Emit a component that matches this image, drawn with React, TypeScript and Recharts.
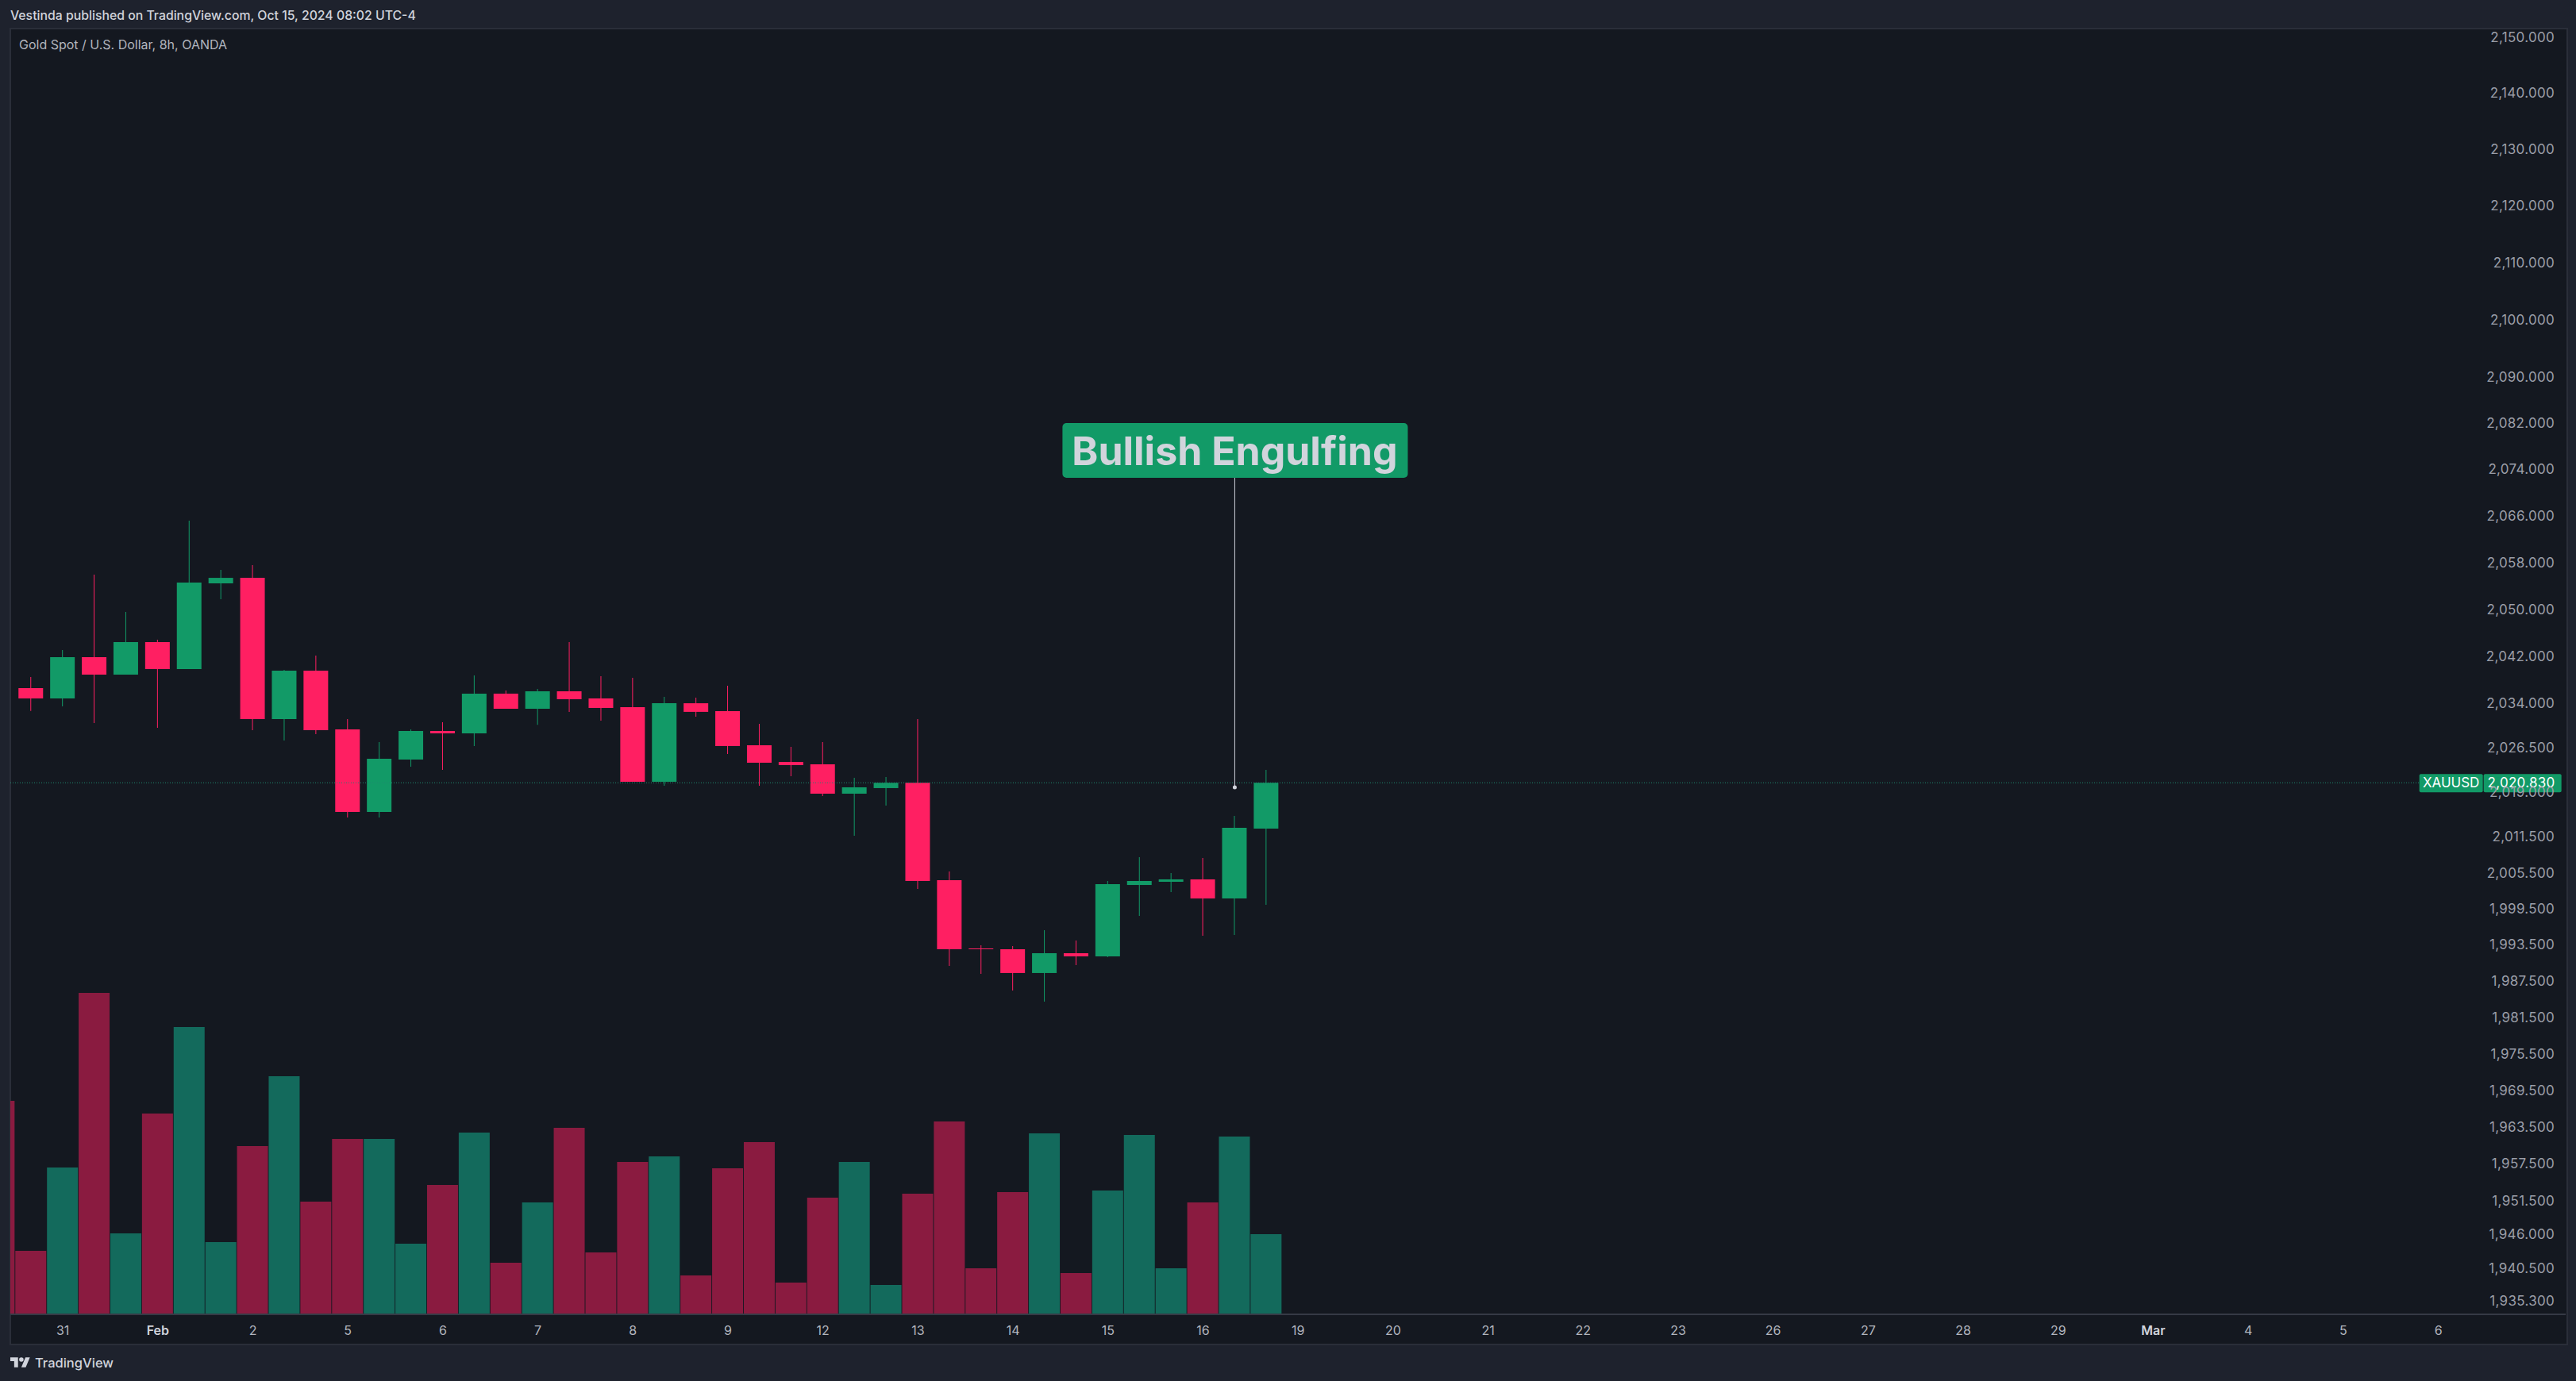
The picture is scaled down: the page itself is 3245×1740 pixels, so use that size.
import {
  Bar,
  Cell,
  ComposedChart,
  ReferenceDot,
  ReferenceLine,
  XAxis,
  YAxis
} from "recharts";

const FONT = "Inter, 'Noto Sans', sans-serif";
const GREEN = "#129a67";
const RED = "#ff1f62";
const VOL_GREEN = "#136a5c";
const VOL_RED = "#8a1b40";

// 8h candles, first bar of the volume pane has no visible candle
const barIndex = [
  -1, 0, 1, 2, 3, 4, 5, 6, 7, 8, 9, 10, 11, 12, 13, 14, 15, 16, 17, 18, 19, 20,
  21, 22, 23, 24, 25, 26, 27, 28, 29, 30, 31, 32, 33, 34, 35, 36, 37, 38, 39
];
const opens = [
  null, 2036.82, 2035.08, 2042.08, 2039.11, 2044.65, 2040.06, 2054.67, 2055.61, 2031.58, 2039.79,
  2029.84, 2015.94, 2024.74, 2029.57, 2029.17, 2035.89, 2033.33, 2036.29, 2035.08, 2033.6,
  2021.0, 2034.26, 2032.93, 2027.16, 2024.34, 2023.94, 2019.0, 2019.94, 2020.83, 2004.51,
  1993.15, 1993.02, 1989.08, 1992.36, 1991.84, 2003.71, 2004.25, 2004.65, 2001.46, 2013.13
];
const highs = [
  null, 2038.71, 2043.29, 2056.16, 2049.78, 2045.05, 2065.42, 2056.98, 2057.79, 2039.92, 2042.35,
  2031.58, 2027.69, 2029.84, 2031.05, 2038.98, 2036.42, 2036.69, 2044.65, 2038.84, 2038.58,
  2035.34, 2035.21, 2037.23, 2030.77, 2026.89, 2027.69, 2021.67, 2021.8, 2031.58, 2005.97,
  1993.67, 1993.55, 1996.18, 1994.47, 2004.38, 2008.36, 2005.71, 2008.22, 2015.27, 2023.01
];
const lows = [
  null, 2032.97, 2033.73, 2030.91, 2039.11, 2030.1, 2040.06, 2051.96, 2029.7, 2027.96, 2029.04,
  2015.0, 2015.0, 2023.54, 2023.01, 2027.02, 2033.33, 2030.6, 2032.8, 2031.32, 2021.0,
  2020.34, 2031.98, 2025.68, 2020.34, 2021.94, 2018.6, 2011.94, 2017.0, 2003.06, 1990.25,
  1988.95, 1986.18, 1984.35, 1990.39, 1991.7, 1998.56, 2002.52, 1995.26, 1995.39, 2000.4
];
const closes = [
  null, 2035.08, 2042.08, 2039.11, 2044.65, 2040.06, 2054.8, 2055.61, 2031.58, 2039.79, 2029.7,
  2015.94, 2024.88, 2029.57, 2029.17, 2035.89, 2033.33, 2036.29, 2034.94, 2033.46, 2021.0,
  2034.26, 2032.8, 2027.02, 2024.21, 2023.81, 2019.0, 2020.07, 2020.83, 2004.38, 1993.02,
  1993.02, 1989.08, 1992.36, 1991.84, 2003.85, 2004.38, 2004.65, 2001.46, 2013.27, 2020.83
];
const volumes = [
  269, 80, 185, 405, 102, 253, 362, 91, 212, 300, 142,
  221, 221, 89, 163, 229, 65, 141, 235, 78, 192,
  199, 49, 184, 217, 40, 147, 192, 37, 152, 243,
  58, 154, 228, 52, 156, 226, 58, 141, 224, 101
];
const volumeUp = [
  false, false, true, false, true, false, true, true, false, true, false,
  false, true, true, false, true, false, true, false, false, false,
  true, false, false, false, false, false, true, true, false, false,
  false, false, true, false, true, true, true, false, true, true
];

const priceTicks = [
  2150, 2140, 2130, 2120, 2110, 2100, 2090, 2082, 2074, 2066, 2058, 2050, 2042, 2034, 2026.5,
  2019, 2011.5, 2005.5, 1999.5, 1993.5, 1987.5, 1981.5, 1975.5, 1969.5, 1963.5, 1957.5,
  1951.5, 1946, 1940.5, 1935.3
];
const timeTicks = [
  1, 4, 7, 10, 13, 16, 19, 22, 25, 28, 31, 34, 37, 40, 43, 46, 49, 52, 55, 58, 61, 64, 67, 70, 73, 76
];
const timeLabels = [
  "31", "Feb", "2", "5", "6", "7", "8", "9", "12", "13", "14", "15", "16", "19", "20", "21",
  "22", "23", "26", "27", "28", "29", "Mar", "4", "5", "6"
];
const monthLabels = ["Feb", "Mar"];

const LAST_PRICE = 2020.83;
const X_DOMAIN = [-0.657, 80.02];
const PRICE_DOMAIN = [1933.35, 2151.8];
const VOLUME_DOMAIN = [0, 1620];

const rows = barIndex.map((i, n) => ({
  i,
  wick: lows[n] === null ? null : [lows[n], highs[n]],
  body:
    opens[n] === null
      ? null
      : [Math.min(opens[n], closes[n]), Math.max(opens[n], closes[n])],
  volume: volumes[n],
  up: closes[n] !== null && closes[n] >= opens[n],
  volumeUp: volumeUp[n]
}));

function TimeTick({ x, y, payload }: any) {
  const label = timeLabels[timeTicks.indexOf(payload.value)];
  const isMonth = monthLabels.includes(label);
  return (
    <text
      x={x}
      y={y + 14}
      textAnchor="middle"
      dominantBaseline="middle"
      fontFamily={FONT}
      fontSize={16}
      fontWeight={isMonth ? 600 : 400}
      fill={isMonth ? "#d1d4dc" : "#b2b5be"}
    >
      {label}
    </text>
  );
}

function PriceTick({ x, y, payload }: any) {
  return (
    <text
      x={x}
      y={y - 0.5}
      textAnchor="end"
      dominantBaseline="middle"
      fontFamily={FONT}
      fontSize={17}
      letterSpacing={0.3}
      fill="#9b9ea8"
    >
      {payload.value.toLocaleString("en-US", {
        minimumFractionDigits: 3,
        maximumFractionDigits: 3
      })}
    </text>
  );
}

function PriceTag({ cx, cy }: any) {
  return (
    <g fontFamily={FONT} fontSize={17} fill="#ffffff">
      <rect x={cx} y={cy - 11} width={80} height={23} rx={2} fill={GREEN} />
      <rect x={cx + 81} y={cy - 11} width={98} height={23} rx={2} fill={GREEN} />
      <text x={cx + 40} y={cy + 1} textAnchor="middle" dominantBaseline="middle">
        XAUUSD
      </text>
      <text
        x={cx + 171}
        y={cy + 1}
        textAnchor="end"
        dominantBaseline="middle"
        letterSpacing={0.3}
      >
        {LAST_PRICE.toFixed(3).replace(/^(\d)(\d{3})/, "$1,$2")}
      </text>
    </g>
  );
}

function CalloutBox({ cx, cy }: any) {
  return (
    <g>
      <rect x={cx - 217} y={cy - 69} width={435} height={69} rx={5} fill={GREEN} />
      <text
        x={cx}
        y={cy - 30}
        textAnchor="middle"
        dominantBaseline="middle"
        fontFamily={FONT}
        fontSize={50}
        fontWeight={700}
        fill="#d1d4dc"
      >
        Bullish Engulfing
      </text>
    </g>
  );
}

export default function App() {
  return (
    <div
      style={{
        position: "absolute",
        left: 0,
        top: 0,
        width: 3245,
        height: 1740,
        background: "#1e222d",
        overflow: "hidden",
        fontFamily: FONT
      }}
    >
      <div
        style={{
          position: "absolute",
          left: 12,
          top: 35,
          width: 3219,
          height: 1656,
          background: "#141820",
          border: "2px solid #2a2e39"
        }}
      />
      <div
        style={{
          position: "absolute",
          left: 13,
          top: 10,
          fontSize: 15.8,
          fontWeight: 500,
          color: "#d1d4dc",
          whiteSpace: "nowrap"
        }}
      >
        Vestinda published on TradingView.com, Oct 15, 2024 08:02 UTC-4
      </div>
      <div
        style={{
          position: "absolute",
          left: 24,
          top: 46,
          fontSize: 16,
          color: "#b2b5be",
          whiteSpace: "nowrap"
        }}
      >
        Gold Spot / U.S. Dollar, 8h, OANDA
      </div>

      <div style={{ position: "absolute", left: 0, top: 0 }}>
        <ComposedChart
          width={3245}
          height={1740}
          data={rows}
          margin={{ top: 36, right: 13, bottom: 48, left: 13 }}
        >
          <XAxis
            xAxisId="main"
            dataKey="i"
            type="number"
            domain={X_DOMAIN}
            allowDataOverflow
            ticks={timeTicks}
            interval={0}
            height={36}
            axisLine={{ stroke: "#363a45", strokeWidth: 2 }}
            tickLine={false}
            tick={<TimeTick />}
          />
          <XAxis xAxisId="wick" dataKey="i" type="number" domain={X_DOMAIN} allowDataOverflow hide />
          <XAxis xAxisId="vol" dataKey="i" type="number" domain={X_DOMAIN} allowDataOverflow hide />
          <YAxis
            yAxisId="price"
            orientation="right"
            mirror
            scale="log"
            type="number"
            domain={PRICE_DOMAIN}
            allowDataOverflow
            ticks={priceTicks}
            interval={0}
            axisLine={false}
            tickLine={false}
            tickSize={0}
            tickMargin={14}
            tick={<PriceTick />}
          />
          <YAxis yAxisId="vol" hide type="number" domain={VOLUME_DOMAIN} />

          <Bar
            xAxisId="vol"
            yAxisId="vol"
            dataKey="volume"
            barSize={39}
            isAnimationActive={false}
          >
            {rows.map((r) => (
              <Cell key={r.i} fill={r.volumeUp ? VOL_GREEN : VOL_RED} />
            ))}
          </Bar>

          <ReferenceLine
            xAxisId="main"
            yAxisId="price"
            segment={[
              { x: X_DOMAIN[0], y: LAST_PRICE },
              { x: 75.4, y: LAST_PRICE }
            ]}
            stroke="#1f8a70"
            strokeWidth={1}
            strokeDasharray="1 2"
          />

          <Bar
            xAxisId="wick"
            yAxisId="price"
            dataKey="wick"
            barSize={1}
            isAnimationActive={false}
          >
            {rows.map((r) => (
              <Cell key={r.i} fill={r.up ? GREEN : RED} />
            ))}
          </Bar>
          <Bar
            xAxisId="main"
            yAxisId="price"
            dataKey="body"
            barSize={31}
            isAnimationActive={false}
          >
            {rows.map((r) => (
              <Cell key={r.i} fill={r.up ? GREEN : RED} />
            ))}
          </Bar>

          <ReferenceLine
            xAxisId="main"
            yAxisId="price"
            segment={[
              { x: 38, y: 2020.07 },
              { x: 38, y: 2072.8 }
            ]}
            stroke="#d1d4dc"
            strokeWidth={1}
          />
          <ReferenceDot
            xAxisId="main"
            yAxisId="price"
            x={38}
            y={2020.07}
            r={2.5}
            fill="#d1d4dc"
            stroke="none"
          />
          <ReferenceDot xAxisId="main" yAxisId="price" x={38} y={2072.8} shape={<CalloutBox />} />
          <ReferenceDot xAxisId="main" yAxisId="price" x={75.4} y={LAST_PRICE} shape={<PriceTag />} />
        </ComposedChart>
      </div>

      <svg
        style={{ position: "absolute", left: 13, top: 1710 }}
        width={25}
        height={13}
        viewBox="0 4 36 18"
      >
        <path d="M14 22H7V11H0V4h14v18zM28 22h-8l7.5-18h8L28 22z" fill="#d1d4dc" />
        <circle cx="20" cy="8" r="4" fill="#d1d4dc" />
      </svg>
      <div
        style={{
          position: "absolute",
          left: 44,
          top: 1707,
          fontSize: 16.5,
          fontWeight: 500,
          color: "#d1d4dc"
        }}
      >
        TradingView
      </div>
    </div>
  );
}
